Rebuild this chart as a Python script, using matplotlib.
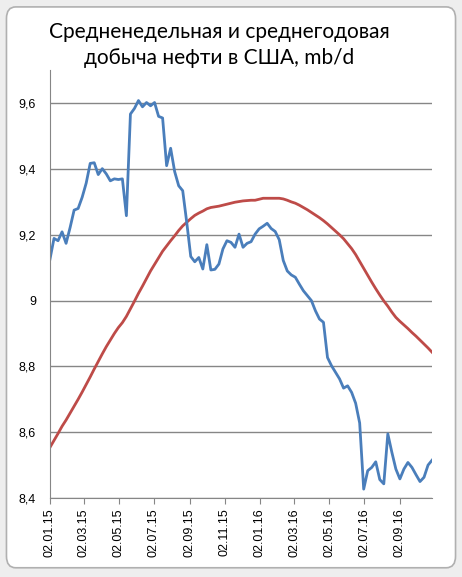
import numpy as np
import pandas as pd
import matplotlib
matplotlib.use("Agg")
import matplotlib.pyplot as plt
import matplotlib.dates as mdates
from matplotlib.patches import FancyBboxPatch

# weekly crude output, mb/d
weekly = [9.126, 9.189, 9.182, 9.209, 9.174, 9.222, 9.275, 9.280, 9.314, 9.357,
          9.417, 9.419, 9.383, 9.401, 9.385, 9.364, 9.370, 9.368, 9.370, 9.258,
          9.567, 9.584, 9.608, 9.589, 9.602, 9.592, 9.602, 9.560, 9.555, 9.410,
          9.463, 9.392, 9.349, 9.334, 9.238, 9.134, 9.118, 9.131, 9.096, 9.170,
          9.093, 9.095, 9.111, 9.157, 9.182, 9.177, 9.162, 9.202, 9.162, 9.174,
          9.179, 9.202, 9.218, 9.226, 9.235, 9.219, 9.210, 9.185, 9.122, 9.090,
          9.078, 9.071, 9.050, 9.030, 9.015, 9.000, 8.969, 8.944, 8.934, 8.827,
          8.802, 8.782, 8.762, 8.734, 8.741, 8.721, 8.688, 8.628, 8.427, 8.483,
          8.493, 8.510, 8.456, 8.443, 8.595, 8.539, 8.488, 8.458, 8.488, 8.508,
          8.493, 8.471, 8.450, 8.463, 8.500, 8.515]

# 52-week average
yearly = [8.554, 8.575, 8.596, 8.618, 8.637, 8.658, 8.679, 8.700, 8.722, 8.745,
          8.768, 8.792, 8.815, 8.838, 8.860, 8.880, 8.900, 8.918, 8.933, 8.952,
          8.975, 8.998, 9.022, 9.044, 9.067, 9.090, 9.110, 9.130, 9.150, 9.166,
          9.182, 9.197, 9.213, 9.227, 9.238, 9.249, 9.259, 9.266, 9.272, 9.279,
          9.283, 9.285, 9.287, 9.290, 9.293, 9.296, 9.299, 9.301, 9.303, 9.304,
          9.305, 9.305, 9.308, 9.311, 9.311, 9.311, 9.311, 9.311, 9.309, 9.305,
          9.300, 9.296, 9.290, 9.283, 9.276, 9.268, 9.260, 9.252, 9.243, 9.233,
          9.222, 9.211, 9.200, 9.188, 9.173, 9.158, 9.140, 9.119, 9.098, 9.077,
          9.056, 9.036, 9.017, 8.999, 8.983, 8.965, 8.949, 8.937, 8.926, 8.915,
          8.903, 8.892, 8.880, 8.868, 8.856, 8.843]

dates = pd.date_range("2015-01-02", periods=len(weekly), freq="7D")
tick_dates = pd.to_datetime(["2015-01-02", "2015-03-02", "2015-05-02", "2015-07-02",
                             "2015-09-02", "2015-11-02", "2016-01-02", "2016-03-02",
                             "2016-05-02", "2016-07-02", "2016-09-02"])
yticks = [8.4, 8.6, 8.8, 9.0, 9.2, 9.4, 9.6]
ylabels = ["8,4", "8,6", "8,8", "9", "9,2", "9,4", "9,6"]

fig = plt.figure(figsize=(4.62, 5.77), dpi=100, facecolor="#eeeeee")

# white chart area with rounded frame, like the Excel box
box = FancyBboxPatch((0.014, 0.016), 0.972, 0.972, boxstyle="round,pad=0,rounding_size=0.02",
                     transform=fig.transFigure, facecolor="white", edgecolor="#b0b0b0",
                     linewidth=1.2, zorder=-10)
fig.patches.append(box)

ax = fig.add_axes([0.1082, 0.1369, 0.827, 0.7413])
ax.set_facecolor("none")

ax.plot(dates, yearly, color="#be4b48", lw=2)
ax.plot(dates, weekly, color="#4a7ebb", lw=2)

ax.set_ylim(8.4, 9.7)
ax.set_xlim(dates[0], dates[-1])
ax.set_yticks(yticks)
ax.set_yticklabels(ylabels)
ax.set_xticks(tick_dates)
ax.xaxis.set_major_formatter(mdates.DateFormatter("%d.%m.%y"))
for lab in ax.get_xticklabels():
    lab.set_rotation(90)

ax.grid(axis="y", color="#868686", lw=1)
ax.set_axisbelow(True)
for s in ["top", "right"]:
    ax.spines[s].set_visible(False)
ax.spines["left"].set_color("#868686")
ax.spines["bottom"].set_color("#868686")
ax.tick_params(axis="both", colors="#868686", labelcolor="black", length=4,
               labelsize=9)
ax.tick_params(axis="y", length=0, pad=10)
for lab in ax.get_xticklabels() + ax.get_yticklabels():
    lab.set_family("Liberation Sans")

fig.text(0.475, 0.962, "Средненедельная и среднегодовая\nдобыча нефти в США, mb/d",
         ha="center", va="top", fontsize=15, family="Lato", linespacing=1.35)

fig.savefig("out.png", dpi=100, facecolor=fig.get_facecolor())
